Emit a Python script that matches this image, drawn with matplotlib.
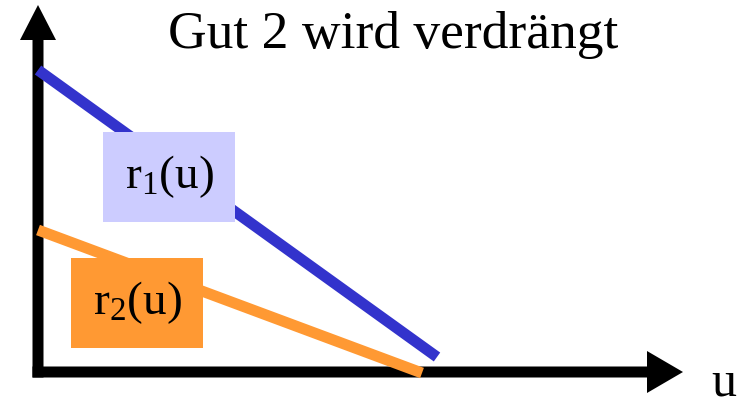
import matplotlib
matplotlib.use("Agg")
import matplotlib.pyplot as plt
from matplotlib.patches import FancyArrow

plt.rcParams['font.family'] = ['Liberation Serif', 'DejaVu Serif']
plt.rcParams['mathtext.fontset'] = 'custom'
plt.rcParams['mathtext.rm'] = 'Liberation Serif'
plt.rcParams['mathtext.it'] = 'Liberation Serif'

# data (u, r) in pixel-like units, origin at the axes corner
u_r1 = [0, 399]
r1 = [302, 15]
u_r2 = [0, 384]
r2 = [142, -1]

title = "Gut 2 wird verdrängt"
label_r1 = r"$\mathrm{r_1(u)}$"
label_r2 = r"$\mathrm{r_2(u)}$"

blue = "#3333CC"
orange = "#FF9933"
lavender = "#CCCCFF"

fig = plt.figure(figsize=(7.43, 4.07), dpi=100)
ax = fig.add_axes([0, 0, 1, 1])
ax.set_xlim(-38, 705)
ax.set_ylim(-35, 372)
ax.set_axis_off()

# axes with arrows
ax.add_patch(FancyArrow(0, -5.5, 0, 372.5, width=11, head_width=36, head_length=35,
                        length_includes_head=True, color="black", lw=0, zorder=2))
ax.add_patch(FancyArrow(-5.5, 0, 650.5, 0, width=11, head_width=42, head_length=36,
                        length_includes_head=True, color="black", lw=0, zorder=2))

# lines
ax.plot(u_r1, r1, color=blue, lw=7.9, solid_capstyle="butt", zorder=3)
ax.plot(u_r2, r2, color=orange, lw=7.9, solid_capstyle="butt", zorder=3)

# labels in boxes
ax.text(131, 195, label_r1, fontsize=34, ha="center", va="center", zorder=4,
        bbox=dict(boxstyle="square,pad=0.45", fc=lavender, ec="none"))
ax.text(99, 69, label_r2, fontsize=34, ha="center", va="center", zorder=4,
        bbox=dict(boxstyle="square,pad=0.45", fc=orange, ec="none"))

ax.text(355, 337, title, fontsize=38.5, ha="center", va="center")
ax.text(686, -24, "u", fontsize=36, ha="center", va="baseline")

fig.savefig("out.png", dpi=100)
